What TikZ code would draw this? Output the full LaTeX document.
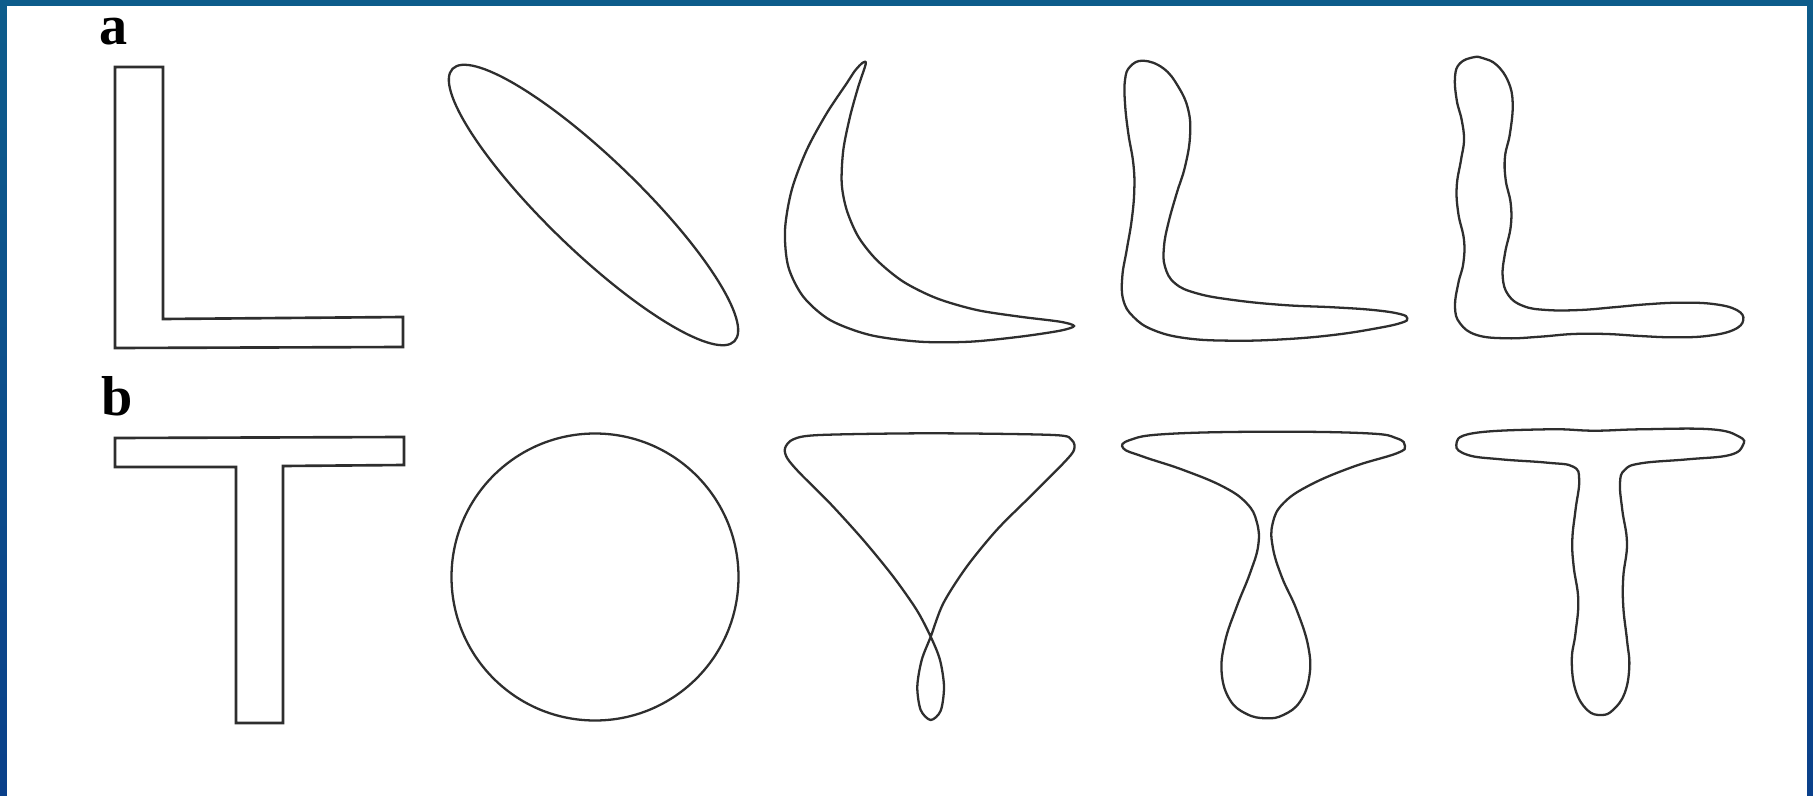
\documentclass[tikz,border=0pt]{standalone}
\usepackage{fontspec}
\setmainfont{Liberation Serif}
\usetikzlibrary{calc}
\definecolor{cframetop}{HTML}{0D5C8B}
\definecolor{cframebot}{HTML}{0A408A}
\definecolor{cink}{HTML}{2E2E2E}
\tikzset{
  every picture/.style={line width=0.6pt},
  polygon/.style={draw=cink, line width=0.75pt, line join=miter},
  contour/.style={draw=cink, line width=0.65pt},
  panel/.style={font=\fontsize{16}{19}\selectfont\bfseries, anchor=base west, inner sep=0pt},
}

\begin{document}
\begin{tikzpicture}[x=0.1mm, y=-0.1mm]
  \useasboundingbox (0,0) rectangle (1813,796);
  % blue frame round the page
  \shade[top color=cframetop, bottom color=cframebot] (0,0) rectangle (1813,796);
  \fill[white] (7,6) rectangle (1807,796);

  \node[panel] (laba) at (98,45) {a};
  \node[panel] (labb) at (100,415) {b};

  % row a: the L and its smoothed outlines
  \draw[polygon] (115,67) -- (163,67) -- (163,319) -- (403,317) -- (403,347) -- (115,348) -- cycle;
  \draw[contour, rotate around={-44:(593.5,205)}] (593.5,205) ellipse [x radius=196, y radius=46.5];
  \draw[contour] plot[smooth cycle] coordinates {
    (865.7,64) (862.7,62.7) (855,70.7) (846.7,83.3) (826.7,113.3) (806.7,150) (791.7,190)
    (785,230) (788.3,266.7) (803.3,296.7) (830,320) (870,335) (920,341.7) (970,341.7)
    (1020,336.7) (1060,330.7) (1074,326) (1060,321.7) (1020,316.7) (976.7,310) (936.7,298.3)
    (903.3,281.7) (876.7,260) (858.3,236.7) (846.7,210) (841.7,183.3) (843.3,150)
    (850,116.7) (858.3,86.7)};
  \draw[contour] plot[smooth cycle, tension=0.7] coordinates {
    (1143.3,60.7) (1130,66.7) (1125,80) (1125,103.3) (1128.3,133.3) (1133.3,163.3)
    (1134.3,190) (1131.7,220) (1126.7,250) (1122.3,276.7) (1123.3,300) (1133.3,316.7)
    (1153.3,330) (1186.7,338.3) (1233.3,340.7) (1283.3,339.3) (1333.3,335) (1376.7,328.3)
    (1401.7,322.7) (1407.3,318.3) (1400,314) (1373.3,310) (1333.3,307.3) (1283.3,305)
    (1233.3,300) (1196.7,293.3) (1175,283.3) (1165,266.7) (1164,246.7) (1168.3,223.3)
    (1176.7,193.3) (1185,166.7) (1190,136.7) (1188.3,110) (1178.3,86.7) (1163.3,68.3)};
  \draw[contour] plot[smooth cycle, tension=0.7] coordinates {
    (1473.3,57.3) (1460,63.3) (1455,76.7) (1456.7,100) (1461.7,120) (1464,140) (1461,160)
    (1456.7,186.7) (1458.3,213.3) (1464,240) (1463.3,263.3) (1458.3,283.3) (1455,306.7)
    (1460,323.3) (1476.7,335) (1506.7,338.3) (1540,336.7) (1573.3,334) (1606.7,334)
    (1640,336) (1673.3,337.3) (1706.7,336) (1733.3,330) (1743.3,320) (1736.7,310)
    (1713.3,304) (1680,302.7) (1646.7,304.3) (1613.3,307.3) (1580,310) (1546.7,310)
    (1523.3,306) (1508.3,295) (1502.7,276.7) (1505,253.3) (1510.7,226.7) (1510.7,203.3)
    (1505.7,180) (1505,156.7) (1510,133.3) (1512.7,103.3) (1508.3,81.7) (1496.7,65)
    (1483.3,58.3)};

  % row b: the T and its smoothed outlines
  \draw[polygon] (115,438) -- (404,437) -- (404,465) -- (283,466) -- (283,723) -- (236,723)
    -- (236,467) -- (115,467) -- cycle;
  \draw[contour] (595,577) circle [radius=143.5];
  \draw[contour] plot[smooth cycle] coordinates {
    (785,448.3) (793.3,439.3) (820,435) (930,433.3) (1053.3,435) (1071.7,440) (1074,450)
    (1063.3,463.3) (1030,496.7) (996.7,530) (966.7,566.7) (943.3,603.3) (930.7,636.7)
    (921.7,660) (917.3,686.7) (920.7,710) (930.7,720) (940.7,710.7) (944,686.7) (940,660)
    (930.7,636.7) (916.7,610) (893.3,576.7) (863.3,540) (830,503.3) (800,473.3) (787.3,458.3)};
  \draw[contour] plot[smooth cycle, tension=0.7] coordinates {
    (1123.3,448.3) (1130,440) (1166.7,434) (1266.7,431.7) (1366.7,433.3) (1396.7,438.3)
    (1405,446) (1396.7,453.3) (1353.3,466.7) (1310,485) (1283.3,503.3) (1272.7,523.3)
    (1272.7,546.7) (1281.7,576.7) (1296.7,610) (1308.3,646.7) (1309.3,676.7) (1300,701.7)
    (1283.3,715) (1266,718.3) (1246.7,714) (1230,700) (1221.7,673.3) (1225,641.7)
    (1236.7,606.7) (1250,573.3) (1258.3,545) (1256.7,521.7) (1246.7,503.3) (1223.3,486.7)
    (1183.3,470) (1143.3,456.7)};
  \draw[contour] plot[smooth cycle, tension=0.7] coordinates {
    (1456.3,445) (1472.7,433.3) (1547.5,429.3) (1594.3,430.7) (1641,429.3) (1711,429.3)
    (1739.2,436.7) (1743,445) (1729.8,455) (1687.8,459.3) (1641,463.3) (1624.6,470)
    (1620,483.3) (1622.3,510) (1627,543.3) (1623.3,576.7) (1623.3,606.7) (1627,640)
    (1629.3,666.7) (1624.6,693.3) (1613,710) (1601.3,715) (1587.2,710) (1575.5,690)
    (1571.8,660) (1575.5,633.3) (1578.3,600) (1573.7,566.7) (1572.3,540) (1575.5,510)
    (1579.2,480) (1573.2,466.7) (1547.5,462.7) (1500.7,459.3) (1468,455)};
\end{tikzpicture}
\end{document}
